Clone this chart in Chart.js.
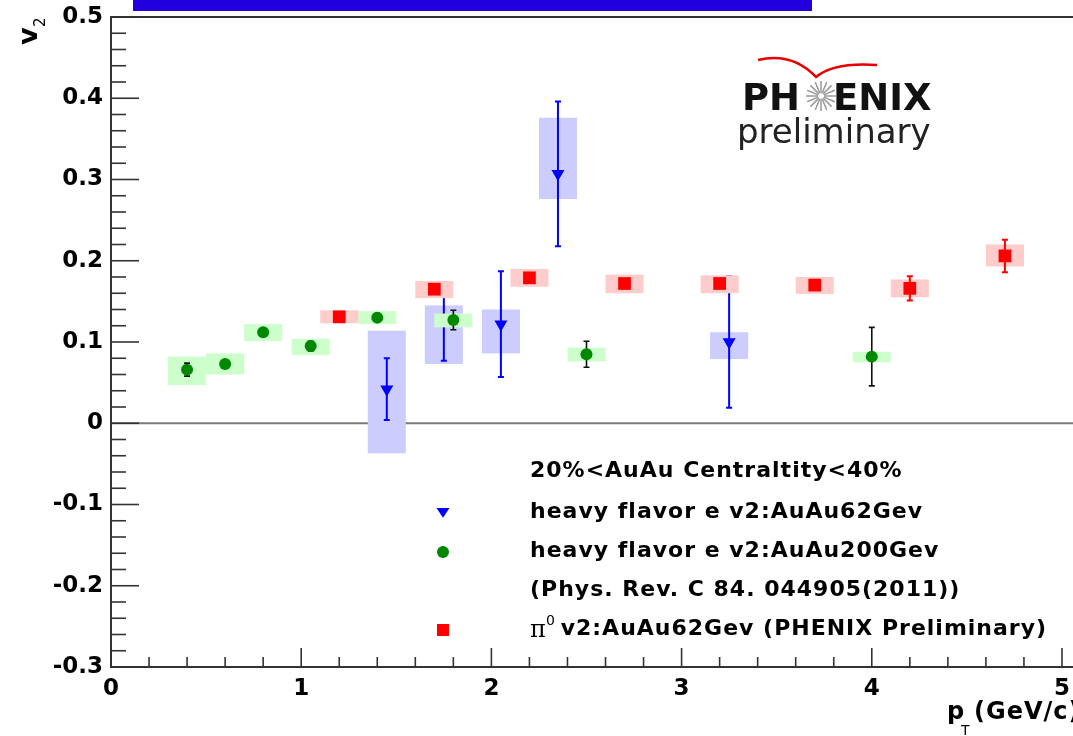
<!DOCTYPE html>
<html>
<head>
<meta charset="utf-8">
<script src="https://cdn.jsdelivr.net/npm/chart.js@4.4.0/dist/chart.umd.min.js"></script>
<style>
  html, body { margin:0; padding:0; background:#fff; overflow:hidden; }
  #bar { position:absolute; left:133px; top:0; width:679px; height:11px; background:#2200dd; }
  canvas { display:block; }
</style>
</head>
<body>
<div id="bar"></div>
<canvas id="c" width="1100" height="736"></canvas>
<script>
// heavy flavor e v2, AuAu 62 GeV (blue triangles)
const hf62_pt    = [1.45, 1.75, 2.05, 2.35, 3.25];
const hf62_v2    = [0.042, 0.125, 0.122, 0.307, 0.100];
const hf62_stat  = [0.038, 0.048, 0.065, 0.089, 0.081];
const hf62_sysUp = [0.072, 0.020, 0.018, 0.069, 0.012];
const hf62_sysDn = [0.079, 0.052, 0.036, 0.031, 0.021];

// heavy flavor e v2, AuAu 200 GeV (green circles)
const hf200_pt    = [0.4, 0.6, 0.8, 1.05, 1.4, 1.8, 2.5, 4.0];
const hf200_v2    = [0.066, 0.073, 0.112, 0.095, 0.130, 0.127, 0.085, 0.082];
const hf200_stat  = [0.008, 0.004, 0.004, 0.006, 0.005, 0.012, 0.016, 0.036];
const hf200_sysUp = [0.016, 0.013, 0.010, 0.009, 0.008, 0.008, 0.008, 0.006];
const hf200_sysDn = [0.019, 0.013, 0.011, 0.011, 0.008, 0.009, 0.009, 0.007];

// pi0 v2, AuAu 62 GeV (red squares)
const pi0_pt    = [1.2, 1.7, 2.2, 2.7, 3.2, 3.7, 4.2, 4.7];
const pi0_v2    = [0.131, 0.165, 0.179, 0.172, 0.172, 0.170, 0.166, 0.206];
const pi0_stat  = [0.003, 0.004, 0.004, 0.004, 0.004, 0.006, 0.015, 0.020];
const pi0_sysUp = [0.008, 0.010, 0.011, 0.011, 0.010, 0.010, 0.011, 0.014];
const pi0_sysDn = [0.008, 0.011, 0.011, 0.012, 0.012, 0.011, 0.011, 0.013];

const BOX_HALF = 0.1;   // sys box half width in pT

const legendLines = [
  '20%<AuAu Centraltity<40%',
  'heavy flavor e v2:AuAu62Gev',
  'heavy flavor e v2:AuAu200Gev',
  '(Phys. Rev. C 84. 044905(2011))',
  ' v2:AuAu62Gev (PHENIX Preliminary)'
];

const pts = (xs, ys) => xs.map((x, i) => ({x, y: ys[i]}));

// chart.js draws the last dataset first, so blue is last in the list
const SERIES = [
  {v: pi0_v2, x: pi0_pt, stat: pi0_stat, up: pi0_sysUp, dn: pi0_sysDn, box: '#ffcccc', err: '#ff0000', errW: 2},
  {v: hf200_v2, x: hf200_pt, stat: hf200_stat, up: hf200_sysUp, dn: hf200_sysDn, box: '#ccffcc', err: '#111111', errW: 1.6},
  {v: hf62_v2, x: hf62_pt, stat: hf62_stat, up: hf62_sysUp, dn: hf62_sysDn, box: '#ccccff', err: '#0000ff', errW: 2}
];

const TICK_FONT = {family: 'DejaVu Sans', weight: 'bold', size: 23};

function drawMarker(ctx, style, x, y, r, color) {
  ctx.fillStyle = color;
  ctx.beginPath();
  if (style === 'circle') ctx.arc(x, y, r, 0, Math.PI * 2);
  else if (style === 'rect') ctx.rect(x - r, y - r, 2 * r, 2 * r);
  else { ctx.moveTo(x - r, y - r * 0.6); ctx.lineTo(x + r, y - r * 0.6); ctx.lineTo(x, y + r * 0.9); ctx.closePath(); }
  ctx.fill();
}

const rootStyle = {
  id: 'rootStyle',
  beforeDatasetsDraw(chart) {
    const {ctx, chartArea: a, scales: {y}} = chart;
    const y0 = y.getPixelForValue(0);
    ctx.save();
    ctx.strokeStyle = '#7a7a7a'; ctx.lineWidth = 2;
    ctx.beginPath(); ctx.moveTo(a.left, y0); ctx.lineTo(chart.width, y0); ctx.stroke();
    ctx.restore();
  },
  beforeDatasetDraw(chart, args) {
    const s = SERIES[args.index];
    if (!s) return;
    const {ctx, scales: {x, y}} = chart;
    ctx.save();
    // systematic boxes
    ctx.fillStyle = s.box;
    s.x.forEach((px, i) => {
      const l = x.getPixelForValue(px - BOX_HALF), r = x.getPixelForValue(px + BOX_HALF);
      const t = y.getPixelForValue(s.v[i] + s.up[i]), b = y.getPixelForValue(s.v[i] - s.dn[i]);
      ctx.fillRect(l, t, r - l, b - t);
    });
    // statistical error bars
    ctx.strokeStyle = s.err; ctx.lineWidth = s.errW;
    s.x.forEach((px, i) => {
      const cx = x.getPixelForValue(px);
      const t = y.getPixelForValue(s.v[i] + s.stat[i]), b = y.getPixelForValue(s.v[i] - s.stat[i]);
      ctx.beginPath();
      ctx.moveTo(cx, t); ctx.lineTo(cx, b);
      ctx.moveTo(cx - 3, t); ctx.lineTo(cx + 3, t);
      ctx.moveTo(cx - 3, b); ctx.lineTo(cx + 3, b);
      ctx.stroke();
    });
    ctx.restore();
  },
  afterDatasetsDraw(chart) {
    const {ctx, chartArea: a, scales: {x, y}} = chart;
    ctx.save();
    ctx.strokeStyle = '#333'; ctx.lineWidth = 2;
    // frame: top, left, bottom (right side is cut off)
    ctx.beginPath();
    ctx.moveTo(chart.width, a.top); ctx.lineTo(a.left, a.top);
    ctx.lineTo(a.left, a.bottom); ctx.lineTo(chart.width, a.bottom);
    ctx.stroke();
    // y ticks, inside
    ctx.lineWidth = 1.6;
    for (let i = -15; i <= 25; i++) {
      const py = y.getPixelForValue(i * 0.02);
      const len = i % 5 === 0 ? 28 : 15;
      ctx.beginPath(); ctx.moveTo(a.left, py); ctx.lineTo(a.left + len, py); ctx.stroke();
    }
    // x ticks, inside
    for (let i = 0; i <= 26; i++) {
      const px = x.getPixelForValue(i * 0.2);
      const len = i % 5 === 0 ? 19 : 10;
      ctx.beginPath(); ctx.moveTo(px, a.bottom); ctx.lineTo(px, a.bottom - len); ctx.stroke();
    }
    ctx.restore();
  },
  afterDraw(chart) {
    const ctx = chart.ctx;
    const ds = chart.data.datasets;
    ctx.save();
    ctx.textBaseline = 'middle';
    // legend
    drawMarker(ctx, 'tri', 443, 512, 6.5, ds[2].pointBackgroundColor);
    drawMarker(ctx, 'circle', 443, 552, 6, ds[1].pointBackgroundColor);
    drawMarker(ctx, 'rect', 443, 630, 6, ds[0].pointBackgroundColor);
    const ly = [471, 512, 551, 590, 629];
    ctx.fillStyle = '#000';
    ctx.letterSpacing = '1px';
    ctx.font = 'bold 22px "DejaVu Sans"';
    for (let i = 0; i < 4; i++) ctx.fillText(legendLines[i], 530, ly[i]);
    ctx.letterSpacing = '0px';
    ctx.font = '24px "DejaVu Serif"';
    ctx.fillText('\u03c0', 530, ly[4] + 2);
    ctx.font = '14px "DejaVu Sans"';
    ctx.fillText('0', 546, ly[4] - 8);
    ctx.letterSpacing = '1px';
    ctx.font = 'bold 22px "DejaVu Sans"';
    ctx.fillText(legendLines[4], 552, ly[4]);

    // axis titles
    ctx.textBaseline = 'alphabetic';
    ctx.letterSpacing = '0px';
    ctx.save();
    ctx.translate(37, 45); ctx.rotate(-Math.PI / 2);
    ctx.font = 'bold 27px "DejaVu Sans"';
    ctx.fillText('v', 0, 0);
    ctx.font = '15px "DejaVu Sans"';
    ctx.fillText('2', 18, 8);
    ctx.restore();
    ctx.font = 'bold 24px "DejaVu Sans"';
    ctx.fillText('p', 947, 719);
    ctx.font = '14px "DejaVu Sans"';
    ctx.fillText('T', 961, 735);
    ctx.letterSpacing = '1px';
    ctx.font = 'bold 24px "DejaVu Sans"';
    ctx.fillText('(GeV/c)', 974, 719);
    ctx.letterSpacing = '0px';

    // PHENIX preliminary logo
    ctx.font = 'bold 37px "DejaVu Sans"';
    ctx.fillStyle = '#111';
    ctx.fillText('PH', 742, 110);
    ctx.fillText('ENIX', 833, 110);
    ctx.strokeStyle = '#9a9a9a'; ctx.lineWidth = 1.5;
    for (let k = 0; k < 16; k++) {
      const ang = k * Math.PI / 8;
      ctx.beginPath();
      ctx.moveTo(821 + Math.cos(ang) * 3, 96 + Math.sin(ang) * 3);
      ctx.lineTo(821 + Math.cos(ang) * 15, 96 + Math.sin(ang) * 15);
      ctx.stroke();
    }
    ctx.strokeStyle = '#e60000'; ctx.lineWidth = 2.5;
    ctx.beginPath();
    ctx.moveTo(758, 60); ctx.quadraticCurveTo(792, 52, 816, 77);
    ctx.quadraticCurveTo(834, 62, 877, 65);
    ctx.stroke();
    ctx.font = '34px "DejaVu Sans"';
    ctx.fillStyle = '#222';
    ctx.fillText('preliminary', 737, 143);
    ctx.restore();
  }
};

new Chart(document.getElementById('c'), {
  type: 'scatter',
  data: {
    datasets: [
      {label: 'pi0 v2 AuAu62', data: pts(pi0_pt, pi0_v2), pointStyle: 'rect', pointRadius: 9,
       pointBackgroundColor: '#ff0000', pointBorderWidth: 0, pointBorderColor: 'rgba(0,0,0,0)'},
      {label: 'hf e v2 AuAu200', data: pts(hf200_pt, hf200_v2), pointStyle: 'circle', pointRadius: 6,
       pointBackgroundColor: '#008800', pointBorderWidth: 0, pointBorderColor: 'rgba(0,0,0,0)'},
      {label: 'hf e v2 AuAu62', data: pts(hf62_pt, hf62_v2), pointStyle: 'triangle', pointRadius: 7.5, pointRotation: 180,
       pointBackgroundColor: '#0000ff', pointBorderWidth: 0, pointBorderColor: 'rgba(0,0,0,0)'}
    ]
  },
  options: {
    responsive: false,
    animation: false,
    layout: {padding: {top: 17, right: 19, left: 0, bottom: 0}},
    plugins: {legend: {display: false}, tooltip: {enabled: false}},
    scales: {
      x: {
        type: 'linear', min: 0, max: 5.1,
        afterFit(s) { s.height = 69; s.paddingLeft = 0; s.paddingRight = 0; },
        grid: {display: false, drawTicks: false},
        border: {display: false},
        ticks: {stepSize: 1, includeBounds: false, padding: 8, autoSkip: false, color: '#000', font: TICK_FONT, maxRotation: 0,
                callback: v => Math.abs(v - Math.round(v)) < 1e-6 ? String(Math.round(v)) : ''}
      },
      y: {
        min: -0.3, max: 0.5,
        afterFit(s) { s.width = 111; s.paddingTop = 0; s.paddingBottom = 0; },
        grid: {display: false, drawTicks: false},
        border: {display: false},
        ticks: {stepSize: 0.1, padding: 8, autoSkip: false, color: '#000', font: TICK_FONT,
                callback: v => Math.abs(v) < 1e-9 ? '0' : v.toFixed(1)}
      }
    }
  },
  plugins: [rootStyle]
});
</script>
</body>
</html>
